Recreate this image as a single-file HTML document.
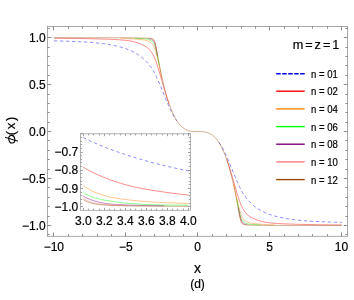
<!DOCTYPE html>
<html><head><meta charset="utf-8"><style>
html,body{margin:0;padding:0;background:#fff;}
body{width:354px;height:300px;overflow:hidden;position:relative;font-family:"Liberation Sans",sans-serif;}
</style></head><body>
<div style="will-change:transform;position:absolute;left:0;top:0;width:354px;height:300px">
<svg width="354" height="300" viewBox="0 0 354 300" style="position:absolute;left:0;top:0">
<g fill="none" stroke-width="0.45" stroke-linejoin="round">
<path d="M53.97,40.80 L65.00,41.15 L74.12,41.50 L81.79,41.86 L88.51,42.26 L93.78,42.67 L98.82,43.17 L103.86,43.79 L108.89,44.54 L113.45,45.36 L117.77,46.32 L121.84,47.40 L125.68,48.62 L129.04,49.89 L132.16,51.28 L135.03,52.78 L137.91,54.53 L140.07,56.02 L142.23,57.70 L144.39,59.61 L146.31,61.52 L148.22,63.68 L150.14,66.10 L152.06,68.80 L153.50,71.10 L154.46,72.82 L155.42,74.76 L158.30,81.05 L160.94,87.22 L166.93,101.68 L168.61,105.55 L170.05,108.73 L171.73,112.22 L173.41,115.43 L175.09,118.35 L176.76,120.95 M218.98,142.25 L220.65,144.85 L222.33,147.77 L224.01,150.98 L225.69,154.47 L227.13,157.65 L228.81,161.52 L234.80,175.98 L237.44,182.15 L240.32,188.44 L241.28,190.38 L242.24,192.10 L243.68,194.40 L245.60,197.10 L247.52,199.52 L249.43,201.68 L251.35,203.59 L253.51,205.50 L255.67,207.18 L257.83,208.67 L260.71,210.42 L263.58,211.92 L266.70,213.31 L270.06,214.58 L273.90,215.80 L277.97,216.88 L282.29,217.84 L286.85,218.66 L291.88,219.41 L296.92,220.03 L301.96,220.53 L307.23,220.94 L313.95,221.34 L321.62,221.70 L330.74,222.05 L341.77,222.40" stroke="#0000ff" stroke-dasharray="3.4 2.6"/>
<path d="M53.97,38.22 L76.03,38.45 L97.38,38.89 L105.05,39.12 L112.73,39.43 L118.25,39.71 L122.80,40.04 L126.16,40.37 L129.28,40.81 L132.16,41.35 L134.79,41.98 L137.43,42.77 L140.31,43.80 L142.71,44.83 L144.63,45.84 L146.07,46.72 L147.50,47.78 L148.94,49.11 L150.14,50.46 L151.58,52.40 L152.78,54.30 L153.74,56.04 L154.70,58.11 L156.38,62.70 L158.06,67.83 L159.74,73.38 L163.81,87.50 L165.49,93.14 L167.41,99.20 L169.09,104.09 M226.65,159.11 L228.33,164.00 L230.25,170.06 L231.93,175.70 L236.00,189.82 L237.68,195.37 L239.36,200.50 L241.04,205.09 L242.00,207.16 L242.96,208.90 L244.16,210.80 L245.60,212.74 L246.80,214.09 L248.24,215.42 L249.67,216.48 L251.11,217.36 L253.03,218.37 L255.43,219.40 L258.31,220.43 L260.95,221.22 L263.58,221.85 L266.46,222.39 L269.58,222.83 L272.94,223.16 L277.49,223.49 L283.01,223.77 L290.69,224.08 L298.36,224.31 L319.71,224.75 L341.77,224.98" stroke="#ff0000"/>
<path d="M120.64,38.26 L127.12,38.49 L132.64,38.81 L137.67,39.24 L143.91,39.92 L144.87,40.10 L146.07,40.42 L147.50,40.89 L148.46,41.28 L149.66,41.86 L150.38,42.28 L151.10,42.81 L151.58,43.26 L152.30,44.07 L152.78,44.72 L153.50,45.87 L153.98,46.81 L154.70,48.53 L155.66,51.54 L156.62,55.00 L157.82,59.82 L162.13,78.71 M233.61,184.49 L237.92,203.38 L239.12,208.20 L240.08,211.66 L241.04,214.67 L241.76,216.39 L242.24,217.33 L242.96,218.48 L243.44,219.13 L244.16,219.94 L244.64,220.39 L245.36,220.92 L246.08,221.34 L247.28,221.92 L248.24,222.31 L249.67,222.78 L250.87,223.10 L251.83,223.28 L258.07,223.96 L263.10,224.39 L268.62,224.71 L275.10,224.94" stroke="#ff8000"/>
<path d="M135.03,38.30 L143.91,38.70 L145.59,38.88 L147.27,39.20 L147.98,39.37 L148.94,39.68 L150.38,40.32 L151.34,40.88 L152.06,41.37 L152.54,41.76 L153.02,42.24 L153.74,43.18 L154.46,44.49 L154.94,45.80 L155.42,47.45 L156.14,50.23 L156.86,53.34 L159.26,64.86 M236.48,198.34 L238.88,209.86 L239.60,212.97 L240.32,215.75 L240.80,217.40 L241.28,218.71 L242.00,220.02 L242.72,220.96 L243.20,221.44 L243.68,221.83 L244.40,222.32 L245.36,222.88 L246.80,223.52 L247.76,223.83 L248.47,224.00 L250.15,224.32 L251.83,224.50 L260.71,224.90" stroke="#00ff00"/>
<path d="M148.46,38.66 L150.62,39.05 L151.34,39.31 L151.82,39.58 L152.54,40.13 L153.26,40.86 L153.74,41.46 L154.22,42.23 L154.70,43.28 L155.18,44.89 L155.66,46.74 L156.62,51.06 L157.58,55.87 M238.16,207.33 L239.12,212.14 L240.08,216.46 L240.56,218.31 L241.04,219.92 L241.52,220.97 L242.00,221.74 L242.48,222.34 L243.20,223.07 L243.92,223.62 L244.40,223.89 L245.12,224.15 L247.28,224.54" stroke="#800080"/>
<path d="M151.82,38.98 L152.54,39.30 L153.26,39.80 L153.74,40.33 L153.98,40.68 L154.46,41.60 L154.70,42.19 L154.94,42.97 L155.42,44.80 L155.90,46.91 L156.62,50.45 M239.12,212.75 L239.84,216.29 L240.32,218.40 L240.80,220.23 L241.04,221.01 L241.28,221.60 L241.76,222.52 L242.00,222.87 L242.48,223.40 L243.20,223.90 L243.92,224.22" stroke="#ff8080"/>
<path d="M53.97,37.71 L113.21,37.76 L127.60,37.82 L138.15,37.95 L146.07,38.10 L149.18,38.26 L150.62,38.42 L151.82,38.66 L152.54,38.90 L153.26,39.28 L153.74,39.73 L153.98,40.04 L154.46,40.89 L154.70,41.46 L154.94,42.25 L155.42,44.16 L156.38,48.84 L159.50,65.66 L161.42,75.06 L162.61,80.46 L163.81,85.50 L165.01,90.20 L166.45,95.40 L167.65,99.39 L168.85,103.08 L170.05,106.47 L171.25,109.58 L172.45,112.42 L173.89,115.50 L175.09,117.80 L176.52,120.25 L177.72,122.06 L178.92,123.66 L180.12,125.08 L181.56,126.54 L182.76,127.57 L184.20,128.62 L185.64,129.46 L187.08,130.13 L188.28,130.57 L189.48,130.91 L190.91,131.21 L192.35,131.40 L194.99,131.57 L201.47,131.65 L203.15,131.77 L204.83,131.99 L206.50,132.35 L208.18,132.88 L209.62,133.49 L211.06,134.28 L212.50,135.25 L213.94,136.44 L215.38,137.86 L216.82,139.54 L218.26,141.49 L219.46,143.34 L220.89,145.84 L222.09,148.19 L223.29,150.78 L224.25,153.03 L225.45,156.09 L226.41,158.73 L227.61,162.30 L228.57,165.37 L230.49,172.10 L231.69,176.73 L232.65,180.69 L233.84,185.94 L234.80,190.40 L236.48,198.78 L239.36,214.36 L240.32,219.04 L241.04,221.74 L241.52,222.78 L241.76,223.16 L242.24,223.72 L242.72,224.07 L243.44,224.39 L244.40,224.65 L245.36,224.81 L248.00,225.04 L253.27,225.18 L264.78,225.35 L278.93,225.43 L341.77,225.49" stroke="#994c00"/>
</g>
<rect x="47.50" y="26.50" width="300.10" height="209.80" fill="none" stroke="#959595" stroke-width="0.8"/>
<path d="M53.50,236.30 v-3.80 M53.50,26.50 v3.80 M68.50,236.30 v-2.20 M68.50,26.50 v2.20 M82.50,236.30 v-2.20 M82.50,26.50 v2.20 M97.50,236.30 v-2.20 M97.50,26.50 v2.20 M111.50,236.30 v-2.20 M111.50,26.50 v2.20 M125.50,236.30 v-3.80 M125.50,26.50 v3.80 M140.50,236.30 v-2.20 M140.50,26.50 v2.20 M154.50,236.30 v-2.20 M154.50,26.50 v2.20 M169.50,236.30 v-2.20 M169.50,26.50 v2.20 M183.50,236.30 v-2.20 M183.50,26.50 v2.20 M197.50,236.30 v-3.80 M197.50,26.50 v3.80 M212.50,236.30 v-2.20 M212.50,26.50 v2.20 M226.50,236.30 v-2.20 M226.50,26.50 v2.20 M241.50,236.30 v-2.20 M241.50,26.50 v2.20 M255.50,236.30 v-2.20 M255.50,26.50 v2.20 M269.50,236.30 v-3.80 M269.50,26.50 v3.80 M284.50,236.30 v-2.20 M284.50,26.50 v2.20 M298.50,236.30 v-2.20 M298.50,26.50 v2.20 M312.50,236.30 v-2.20 M312.50,26.50 v2.20 M327.50,236.30 v-2.20 M327.50,26.50 v2.20 M341.50,236.30 v-3.80 M341.50,26.50 v3.80 M47.50,234.50 h2.20 M347.60,234.50 h-2.20 M47.50,225.50 h3.80 M347.60,225.50 h-3.80 M47.50,216.50 h2.20 M347.60,216.50 h-2.20 M47.50,206.50 h2.20 M347.60,206.50 h-2.20 M47.50,197.50 h2.20 M347.60,197.50 h-2.20 M47.50,187.50 h2.20 M347.60,187.50 h-2.20 M47.50,178.50 h3.80 M347.60,178.50 h-3.80 M47.50,169.50 h2.20 M347.60,169.50 h-2.20 M47.50,159.50 h2.20 M347.60,159.50 h-2.20 M47.50,150.50 h2.20 M347.60,150.50 h-2.20 M47.50,140.50 h2.20 M347.60,140.50 h-2.20 M47.50,131.50 h3.80 M347.60,131.50 h-3.80 M47.50,122.50 h2.20 M347.60,122.50 h-2.20 M47.50,112.50 h2.20 M347.60,112.50 h-2.20 M47.50,103.50 h2.20 M347.60,103.50 h-2.20 M47.50,94.50 h2.20 M347.60,94.50 h-2.20 M47.50,84.50 h3.80 M347.60,84.50 h-3.80 M47.50,75.50 h2.20 M347.60,75.50 h-2.20 M47.50,65.50 h2.20 M347.60,65.50 h-2.20 M47.50,56.50 h2.20 M347.60,56.50 h-2.20 M47.50,47.50 h2.20 M347.60,47.50 h-2.20 M47.50,37.50 h3.80 M347.60,37.50 h-3.80 M47.50,28.50 h2.20 M347.60,28.50 h-2.20" stroke="#808080" stroke-width="0.9" fill="none"/>
<rect x="80.50" y="133.80" width="109.90" height="76.50" fill="none" stroke="#a0a0a0" stroke-width="0.8"/>
<clipPath id="ic"><rect x="80.50" y="133.80" width="109.90" height="76.50"/></clipPath>
<g fill="none" stroke-width="0.45" clip-path="url(#ic)">
<path d="M83.30,137.55 L88.03,139.92 L92.76,142.13 L98.01,144.43 L103.79,146.79 L110.10,149.21 L116.93,151.68 L124.29,154.21 L131.12,156.44 L137.43,158.38 L144.26,160.37 L151.09,162.25 L158.45,164.16 L165.80,165.95 L173.16,167.64 L180.52,169.24 L188.40,170.85" stroke="#0000ff" stroke-dasharray="3.2 2.8"/>
<path d="M83.30,167.12 L85.40,168.42 L87.50,169.65 L89.61,170.80 L92.23,172.15 L97.49,174.63 L103.27,177.12 L109.05,179.40 L114.83,181.45 L120.61,183.30 L126.92,185.09 L132.70,186.54 L139.00,187.92 L145.31,189.13 L152.67,190.39 L161.07,191.67 L169.48,192.82 L178.42,193.91 L188.40,195.01" stroke="#ff0000"/>
<path d="M83.30,185.79 L84.88,186.89 L86.45,187.91 L88.03,188.85 L90.13,190.01 L91.71,190.80 L93.81,191.78 L97.49,193.29 L101.69,194.77 L103.79,195.42 L106.42,196.16 L108.52,196.69 L111.15,197.28 L115.88,198.16 L122.71,199.16 L131.65,200.25 L141.10,201.16 L150.04,201.89 L157.40,202.35 L164.23,202.67 L172.11,202.93 L188.40,203.37" stroke="#ff8000"/>
<path d="M83.30,192.54 L84.35,193.23 L85.93,194.16 L87.50,194.98 L89.08,195.71 L90.66,196.37 L92.76,197.15 L94.86,197.83 L96.96,198.44 L101.17,199.46 L105.90,200.37 L113.25,201.56 L119.56,202.41 L125.87,203.09 L132.70,203.67 L140.58,204.16 L148.99,204.56 L155.82,204.81 L162.65,204.97 L188.40,205.27" stroke="#00ff00"/>
<path d="M83.30,196.02 L84.35,196.72 L85.40,197.34 L87.50,198.41 L90.13,199.51 L93.28,200.59 L97.49,201.77 L101.17,202.63 L104.85,203.32 L108.52,203.84 L111.68,204.16 L115.88,204.44 L134.80,205.31 L144.78,205.53 L164.23,205.79" stroke="#800080"/>
<path d="M83.30,198.15 L84.88,199.19 L86.45,200.10 L88.03,200.87 L89.61,201.52 L91.18,202.08 L93.28,202.68 L95.39,203.16 L97.49,203.54 L100.12,203.92 L102.74,204.24 L105.90,204.55 L109.57,204.83 L116.93,205.22 L127.97,205.60" stroke="#ff8080"/>
<path d="M83.30,199.58 L84.88,200.58 L86.98,201.68 L89.08,202.53 L90.13,202.89 L91.71,203.34 L94.34,203.91 L96.96,204.32 L100.64,204.73 L105.37,205.10 L110.63,205.39 L116.41,205.62 L123.24,205.81 L131.65,205.97 L151.09,206.15 L188.40,206.35" stroke="#994c00"/>
</g>
<path d="M83.50,210.30 v-2.40 M83.50,133.80 v2.40 M88.50,210.30 v-1.60 M88.50,133.80 v1.60 M93.50,210.30 v-1.60 M93.50,133.80 v1.60 M99.50,210.30 v-1.60 M99.50,133.80 v1.60 M104.50,210.30 v-2.40 M104.50,133.80 v2.40 M109.50,210.30 v-1.60 M109.50,133.80 v1.60 M114.50,210.30 v-1.60 M114.50,133.80 v1.60 M120.50,210.30 v-1.60 M120.50,133.80 v1.60 M125.50,210.30 v-2.40 M125.50,133.80 v2.40 M130.50,210.30 v-1.60 M130.50,133.80 v1.60 M135.50,210.30 v-1.60 M135.50,133.80 v1.60 M141.50,210.30 v-1.60 M141.50,133.80 v1.60 M146.50,210.30 v-2.40 M146.50,133.80 v2.40 M151.50,210.30 v-1.60 M151.50,133.80 v1.60 M156.50,210.30 v-1.60 M156.50,133.80 v1.60 M162.50,210.30 v-1.60 M162.50,133.80 v1.60 M167.50,210.30 v-2.40 M167.50,133.80 v2.40 M172.50,210.30 v-1.60 M172.50,133.80 v1.60 M177.50,210.30 v-1.60 M177.50,133.80 v1.60 M183.50,210.30 v-1.60 M183.50,133.80 v1.60 M188.50,210.30 v-2.40 M188.50,133.80 v2.40 M80.50,206.50 h2.40 M190.40,206.50 h-2.40 M80.50,203.50 h1.60 M190.40,203.50 h-1.60 M80.50,199.50 h1.60 M190.40,199.50 h-1.60 M80.50,195.50 h1.60 M190.40,195.50 h-1.60 M80.50,192.50 h1.60 M190.40,192.50 h-1.60 M80.50,188.50 h2.40 M190.40,188.50 h-2.40 M80.50,184.50 h1.60 M190.40,184.50 h-1.60 M80.50,181.50 h1.60 M190.40,181.50 h-1.60 M80.50,177.50 h1.60 M190.40,177.50 h-1.60 M80.50,173.50 h1.60 M190.40,173.50 h-1.60 M80.50,170.50 h2.40 M190.40,170.50 h-2.40 M80.50,166.50 h1.60 M190.40,166.50 h-1.60 M80.50,162.50 h1.60 M190.40,162.50 h-1.60 M80.50,159.50 h1.60 M190.40,159.50 h-1.60 M80.50,155.50 h1.60 M190.40,155.50 h-1.60 M80.50,152.50 h2.40 M190.40,152.50 h-2.40 M80.50,148.50 h1.60 M190.40,148.50 h-1.60 M80.50,144.50 h1.60 M190.40,144.50 h-1.60 M80.50,141.50 h1.60 M190.40,141.50 h-1.60 M80.50,137.50 h1.60 M190.40,137.50 h-1.60 M80.50,133.50 h2.40 M190.40,133.50 h-2.40" stroke="#8a8a8a" stroke-width="0.8" fill="none"/>
<path d="M276.2,73.7 H304.7" stroke="#0000ff" stroke-width="1.4" fill="none" stroke-dasharray="4.5 1.5"/>
<path d="M276.2,91.2 H304.7" stroke="#ff0000" stroke-width="1.4" fill="none"/>
<path d="M276.2,108.9 H304.7" stroke="#ff8000" stroke-width="1.4" fill="none"/>
<path d="M276.2,126.6 H304.7" stroke="#00ff00" stroke-width="1.4" fill="none"/>
<path d="M276.2,144.2 H304.7" stroke="#800080" stroke-width="1.4" fill="none"/>
<path d="M276.2,161.9 H304.7" stroke="#ff8080" stroke-width="1.4" fill="none"/>
<path d="M276.2,179.6 H304.7" stroke="#994c00" stroke-width="1.4" fill="none"/>
<text x="53.87" y="250.90" font-size="12" text-anchor="middle" font-family="Liberation Sans, sans-serif" fill="#000" stroke="#000" stroke-width="0.2" >−10</text>
<text x="125.82" y="250.90" font-size="12" text-anchor="middle" font-family="Liberation Sans, sans-serif" fill="#000" stroke="#000" stroke-width="0.2" >−5</text>
<text x="197.57" y="250.90" font-size="12" text-anchor="middle" font-family="Liberation Sans, sans-serif" fill="#000" stroke="#000" stroke-width="0.2" >0</text>
<text x="269.52" y="250.90" font-size="12" text-anchor="middle" font-family="Liberation Sans, sans-serif" fill="#000" stroke="#000" stroke-width="0.2" >5</text>
<text x="341.47" y="250.90" font-size="12" text-anchor="middle" font-family="Liberation Sans, sans-serif" fill="#000" stroke="#000" stroke-width="0.2" >10</text>
<text x="45.70" y="42.00" font-size="12" text-anchor="end" font-family="Liberation Sans, sans-serif" fill="#000" stroke="#000" stroke-width="0.2" >1.0</text>
<text x="45.70" y="88.95" font-size="12" text-anchor="end" font-family="Liberation Sans, sans-serif" fill="#000" stroke="#000" stroke-width="0.2" >0.5</text>
<text x="45.70" y="135.90" font-size="12" text-anchor="end" font-family="Liberation Sans, sans-serif" fill="#000" stroke="#000" stroke-width="0.2" >0.0</text>
<text x="45.70" y="182.85" font-size="12" text-anchor="end" font-family="Liberation Sans, sans-serif" fill="#000" stroke="#000" stroke-width="0.2" >−0.5</text>
<text x="45.70" y="229.80" font-size="12" text-anchor="end" font-family="Liberation Sans, sans-serif" fill="#000" stroke="#000" stroke-width="0.2" >−1.0</text>
<text x="83.30" y="224.60" font-size="12" text-anchor="middle" font-family="Liberation Sans, sans-serif" fill="#000" stroke="#000" stroke-width="0.2" >3.0</text>
<text x="104.32" y="224.60" font-size="12" text-anchor="middle" font-family="Liberation Sans, sans-serif" fill="#000" stroke="#000" stroke-width="0.2" >3.2</text>
<text x="125.34" y="224.60" font-size="12" text-anchor="middle" font-family="Liberation Sans, sans-serif" fill="#000" stroke="#000" stroke-width="0.2" >3.4</text>
<text x="146.36" y="224.60" font-size="12" text-anchor="middle" font-family="Liberation Sans, sans-serif" fill="#000" stroke="#000" stroke-width="0.2" >3.6</text>
<text x="167.38" y="224.60" font-size="12" text-anchor="middle" font-family="Liberation Sans, sans-serif" fill="#000" stroke="#000" stroke-width="0.2" >3.8</text>
<text x="188.40" y="224.60" font-size="12" text-anchor="middle" font-family="Liberation Sans, sans-serif" fill="#000" stroke="#000" stroke-width="0.2" >4.0</text>
<text x="78.30" y="156.10" font-size="12" text-anchor="end" font-family="Liberation Sans, sans-serif" fill="#000" stroke="#000" stroke-width="0.2" >−0.7</text>
<text x="78.30" y="174.40" font-size="12" text-anchor="end" font-family="Liberation Sans, sans-serif" fill="#000" stroke="#000" stroke-width="0.2" >−0.8</text>
<text x="78.30" y="192.70" font-size="12" text-anchor="end" font-family="Liberation Sans, sans-serif" fill="#000" stroke="#000" stroke-width="0.2" >−0.9</text>
<text x="78.30" y="211.00" font-size="12" text-anchor="end" font-family="Liberation Sans, sans-serif" fill="#000" stroke="#000" stroke-width="0.2" >−1.0</text>
<text x="311.00" y="77.60" font-size="10.5" text-anchor="start" font-family="Liberation Sans, sans-serif" fill="#000" stroke="#000" stroke-width="0.2" textLength="26.9" lengthAdjust="spacingAndGlyphs">n = 01</text>
<text x="311.00" y="95.10" font-size="10.5" text-anchor="start" font-family="Liberation Sans, sans-serif" fill="#000" stroke="#000" stroke-width="0.2" textLength="26.9" lengthAdjust="spacingAndGlyphs">n = 02</text>
<text x="311.00" y="112.80" font-size="10.5" text-anchor="start" font-family="Liberation Sans, sans-serif" fill="#000" stroke="#000" stroke-width="0.2" textLength="26.9" lengthAdjust="spacingAndGlyphs">n = 04</text>
<text x="311.00" y="130.50" font-size="10.5" text-anchor="start" font-family="Liberation Sans, sans-serif" fill="#000" stroke="#000" stroke-width="0.2" textLength="26.9" lengthAdjust="spacingAndGlyphs">n = 06</text>
<text x="311.00" y="148.10" font-size="10.5" text-anchor="start" font-family="Liberation Sans, sans-serif" fill="#000" stroke="#000" stroke-width="0.2" textLength="26.9" lengthAdjust="spacingAndGlyphs">n = 08</text>
<text x="311.00" y="165.80" font-size="10.5" text-anchor="start" font-family="Liberation Sans, sans-serif" fill="#000" stroke="#000" stroke-width="0.2" textLength="26.9" lengthAdjust="spacingAndGlyphs">n = 10</text>
<text x="311.00" y="183.50" font-size="10.5" text-anchor="start" font-family="Liberation Sans, sans-serif" fill="#000" stroke="#000" stroke-width="0.2" textLength="26.9" lengthAdjust="spacingAndGlyphs">n = 12</text>
<text x="339.30" y="49.10" font-size="12.7" text-anchor="end" font-family="Liberation Sans, sans-serif" fill="#000" stroke="#000" stroke-width="0.2" word-spacing="-1.6">m = z = 1</text>
<text x="197.50" y="272.90" font-size="14" text-anchor="middle" font-family="Liberation Sans, sans-serif" fill="#000" stroke="#000" stroke-width="0.2" >x</text>
<text x="197.50" y="288.30" font-size="12" text-anchor="middle" font-family="Liberation Sans, sans-serif" fill="#000" stroke="#000" stroke-width="0.2" >(d)</text>
<text transform="translate(15.3,125.2) rotate(-90)" font-size="13" text-anchor="middle" letter-spacing="1.7" font-family="Liberation Sans, sans-serif" fill="#000" stroke="#000" stroke-width="0.2">(x)</text>
<g fill="none" stroke="#000"><ellipse cx="11.8" cy="139.2" rx="3.0" ry="3.8" stroke-width="1.1" transform="rotate(-12 11.8 139.2)"/><path d="M18.0,141.2 L5.0,137.3" stroke-width="1.0"/></g>
</svg>
</div>
</body></html>
